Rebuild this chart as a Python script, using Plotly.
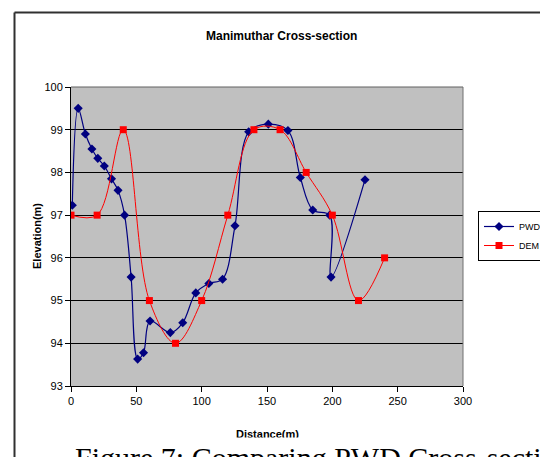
import plotly.graph_objects as go

# Surveyed (PWD) cross-section
pwd_distance = [1, 5.5, 11, 16, 20.5, 25.5, 31, 36, 41, 46, 51, 55.5, 60.5, 76,
                85.5, 95.5, 105.5, 116, 125.5, 136, 151, 166, 175.5, 185, 198,
                199, 225]
pwd_elevation = [97.23, 99.5, 98.9, 98.55, 98.33, 98.15, 97.85, 97.58, 97.0,
                 95.55, 93.63, 93.78, 94.52, 94.25, 94.48, 95.18, 95.4, 95.5,
                 96.75, 98.95, 99.13, 98.98, 97.88, 97.12, 97.0, 95.55, 97.83]

# DEM-derived cross-section
dem_distance = [0, 20, 40, 60, 80, 100, 120, 140, 160, 180, 200, 220, 240]
dem_elevation = [97, 97, 99, 95, 94, 95, 97, 99, 99, 98, 97, 95, 96]

x_ticks = [0, 50, 100, 150, 200, 250, 300]
y_ticks = [93, 94, 95, 96, 97, 98, 99, 100]

W, H = 540, 457
L, R, T, B = 71, 77, 87, 71
PW, PH = W - L - R, H - T - B


def px_x(px):
    return (px - L) / PW


def px_y(py):
    return (H - B - py) / PH


SANS = "Arial, Liberation Sans, sans-serif"
SERIF = "Times New Roman, Liberation Serif, serif"

fig = go.Figure()
fig.add_trace(go.Scatter(
    x=pwd_distance, y=pwd_elevation, name="PWD", mode="lines+markers",
    line=dict(color="#000080", width=1.2, shape="spline", smoothing=1),
    marker=dict(symbol="diamond", size=7, color="#000080"),
))
fig.add_trace(go.Scatter(
    x=dem_distance, y=dem_elevation, name="DEM", mode="lines+markers",
    line=dict(color="#FF0000", width=1, shape="spline", smoothing=1),
    marker=dict(symbol="square", size=7, color="#FF0000"),
))

fig.update_layout(
    width=W, height=H,
    margin=dict(l=L, r=R, t=T, b=B, pad=0, autoexpand=False),
    paper_bgcolor="white",
    plot_bgcolor="#C0C0C0",
    font=dict(family=SANS, size=11, color="black"),
    showlegend=True,
    legend=dict(
        x=px_x(478), y=px_y(211), xanchor="left", yanchor="top",
        bgcolor="white", bordercolor="black", borderwidth=1,
        font=dict(family=SANS, size=9, color="black"),
        tracegroupgap=0, itemwidth=30,
    ),
    xaxis=dict(
        range=[0, 300], tickvals=x_ticks, ticktext=[str(v) for v in x_ticks],
        showgrid=False, zeroline=False,
        showline=True, linecolor="black", linewidth=1,
        ticks="outside", ticklen=5, tickcolor="black", tickwidth=1,
        tickfont=dict(family=SANS, size=11, color="black"),
    ),
    yaxis=dict(
        range=[93, 100], tickvals=y_ticks, ticktext=[str(v) for v in y_ticks],
        showgrid=True, gridcolor="black", gridwidth=1, zeroline=False,
        showline=True, linecolor="black", linewidth=1,
        ticks="outside", ticklen=5, tickcolor="black", tickwidth=1,
        tickfont=dict(family=SANS, size=11, color="black"),
    ),
    shapes=[
        # plot-area frame on the top and right
        dict(type="line", xref="paper", yref="paper", x0=0, x1=1, y0=1, y1=1,
             line=dict(color="#606060", width=1), layer="above"),
        dict(type="line", xref="paper", yref="paper", x0=1, x1=1, y0=0, y1=1,
             line=dict(color="#707070", width=1), layer="above"),
        # outer chart-area border
        dict(type="line", xref="paper", yref="paper",
             x0=px_x(14.5), x1=px_x(560), y0=px_y(12.5), y1=px_y(12.5),
             line=dict(color="#303030", width=2), layer="above"),
        dict(type="line", xref="paper", yref="paper",
             x0=px_x(14.5), x1=px_x(14.5), y0=px_y(12.5), y1=px_y(470),
             line=dict(color="#303030", width=2), layer="above"),
    ],
    annotations=[
        dict(text="<b>Manimuthar Cross-section</b>", xref="paper", yref="paper",
             x=px_x(281), y=px_y(36), xanchor="center", yanchor="middle",
             showarrow=False, font=dict(family=SANS, size=12, color="black")),
        dict(text="<b>Elevation(m)</b>", xref="paper", yref="paper",
             x=px_x(37), y=px_y(236), xanchor="center", yanchor="middle",
             textangle=-90, showarrow=False,
             font=dict(family=SANS, size=11, color="black")),
        dict(text="<b>Distance(m)</b>", xref="paper", yref="paper",
             x=px_x(267), y=px_y(434), xanchor="center", yanchor="middle",
             showarrow=False, font=dict(family=SANS, size=11, color="black")),
        # white caption block below the chart
        dict(text=" ", xref="paper", yref="paper",
             x=px_x(17), y=px_y(437), xanchor="left", yanchor="top",
             width=560, height=40, bgcolor="white", borderpad=0,
             showarrow=False, font=dict(size=10)),
        dict(text="Figure 7: Comparing PWD Cross-section", xref="paper", yref="paper",
             x=px_x(73), y=px_y(439), xanchor="left", yanchor="top",
             showarrow=False, font=dict(family=SERIF, size=30, color="black")),
    ],
)

fig.write_html("out.html")
